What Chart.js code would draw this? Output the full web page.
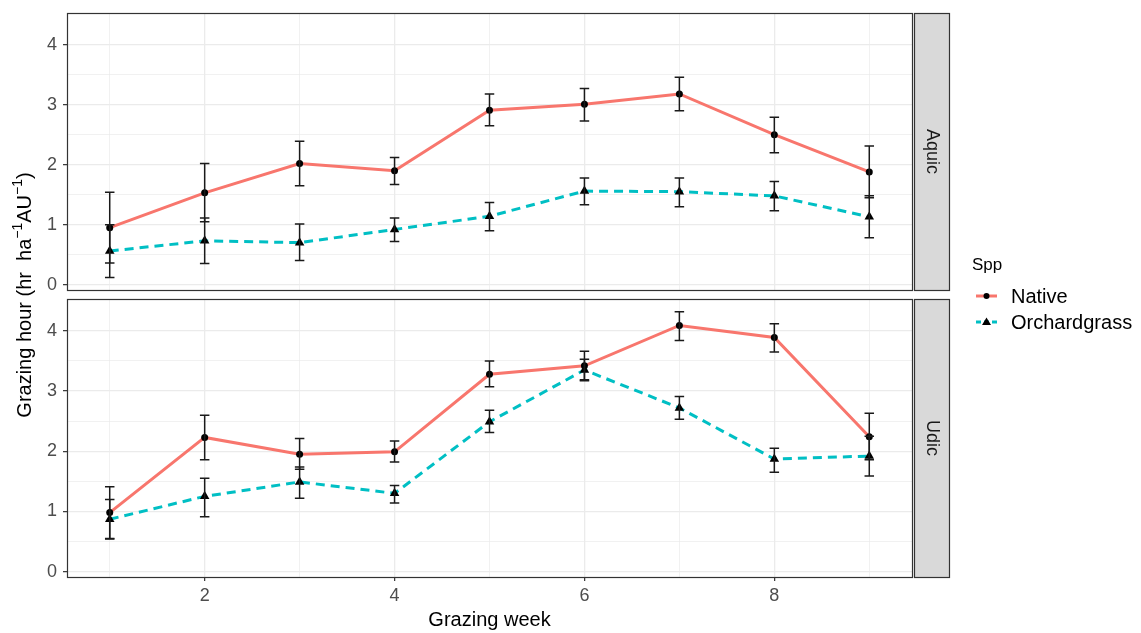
<!DOCTYPE html>
<html>
<head>
<meta charset="utf-8">
<script src="https://cdn.jsdelivr.net/npm/chart.js@4.4.1/dist/chart.umd.min.js"></script>
<style>
  html, body { margin: 0; padding: 0; background: #fff; }
  #wrap { position: relative; width: 1141px; height: 633px; }
  #wrap canvas { position: absolute; left: 0; top: 0; }
</style>
</head>
<body>
<div id="wrap">
  <canvas id="aquicChart" width="1141" height="633"></canvas>
  <canvas id="udicChart" width="1141" height="633"></canvas>
</div>
<script>
/* ========================================
   DATA
======================================== */
const weeks = [1, 2, 3, 4, 5, 6, 7, 8, 9];
const xTicks = [1, 2, 3, 4, 5, 6, 7, 8, 9];
const yTicks = [0, 0.5, 1, 1.5, 2, 2.5, 3, 3.5, 4];

// Aquic panel
const aquicNative   = [0.95, 1.53, 2.02, 1.90, 2.91, 3.01, 3.18, 2.50, 1.88];
const aquicNativeLo = [0.36, 1.05, 1.65, 1.67, 2.65, 2.73, 2.90, 2.20, 1.45];
const aquicNativeHi = [1.54, 2.02, 2.39, 2.12, 3.18, 3.27, 3.46, 2.79, 2.31];
const aquicOrch     = [0.56, 0.73, 0.70, 0.92, 1.14, 1.56, 1.55, 1.48, 1.13];
const aquicOrchLo   = [0.12, 0.35, 0.40, 0.72, 0.90, 1.33, 1.30, 1.23, 0.78];
const aquicOrchHi   = [1.00, 1.11, 1.01, 1.11, 1.37, 1.78, 1.78, 1.72, 1.48];

// Udic panel
const udicNative   = [0.98, 2.23, 1.95, 1.99, 3.28, 3.42, 4.09, 3.89, 2.24];
const udicNativeLo = [0.55, 1.86, 1.70, 1.82, 3.07, 3.19, 3.84, 3.65, 1.86];
const udicNativeHi = [1.41, 2.60, 2.21, 2.17, 3.50, 3.66, 4.32, 4.12, 2.63];
const udicOrch     = [0.87, 1.25, 1.49, 1.30, 2.49, 3.35, 2.72, 1.87, 1.92];
const udicOrchLo   = [0.54, 0.91, 1.22, 1.14, 2.31, 3.17, 2.53, 1.65, 1.59];
const udicOrchHi   = [1.20, 1.55, 1.74, 1.43, 2.68, 3.53, 2.91, 2.05, 2.25];

const NATIVE_COLOR = "#F8766D";
const ORCH_COLOR = "#00BFC4";
const FONT = "'Liberation Sans', Arial, sans-serif";

/* ========================================
   PLUGINS
======================================== */
const errorBars = {
  id: "errorBars",
  afterDatasetsDraw(chart) {
    const { ctx, scales: { x, y } } = chart;
    ctx.save();
    ctx.strokeStyle = "#1a1a1a";
    ctx.lineWidth = 1.5;
    chart.data.datasets.forEach(ds => {
      ds.data.forEach((pt, i) => {
        const px = x.getPixelForValue(pt.x);
        const half = x.getPixelForValue(pt.x + 0.05) - px;
        const yLo = y.getPixelForValue(ds.errLo[i]);
        const yHi = y.getPixelForValue(ds.errHi[i]);
        ctx.beginPath();
        ctx.moveTo(px, yLo); ctx.lineTo(px, yHi);
        ctx.moveTo(px - half, yLo); ctx.lineTo(px + half, yLo);
        ctx.moveTo(px - half, yHi); ctx.lineTo(px + half, yHi);
        ctx.stroke();
      });
    });
    ctx.restore();
  }
};

const panelDecor = {
  id: "panelDecor",
  afterDraw(chart, args, opts) {
    const { ctx, chartArea: a } = chart;
    ctx.save();
    // panel border
    ctx.strokeStyle = "#333";
    ctx.lineWidth = 1.2;
    ctx.strokeRect(a.left + 0.5, a.top + 0.5, a.right - a.left, a.bottom - a.top);
    // facet strip
    ctx.fillStyle = "#d9d9d9";
    ctx.fillRect(a.right + 2, a.top, 35, a.bottom - a.top);
    ctx.strokeRect(a.right + 2.5, a.top + 0.5, 35, a.bottom - a.top);
    ctx.fillStyle = "#1a1a1a";
    ctx.font = "18px " + FONT;
    ctx.textAlign = "center";
    ctx.textBaseline = "middle";
    ctx.translate(a.right + 20, (a.top + a.bottom) / 2);
    ctx.rotate(Math.PI / 2);
    ctx.fillText(opts.strip, 0, 0);
    ctx.restore();

    if (opts.extras) drawExtras(chart);
  }
};

function drawExtras(chart) {
  const ctx = chart.ctx;
  ctx.save();

  // y axis title with superscripts
  const parts = [
    { t: "Grazing hour (hr  ha", sup: false },
    { t: "\u22121", sup: true },
    { t: "AU", sup: false },
    { t: "\u22121", sup: true },
    { t: ")", sup: false }
  ];
  const big = "20px " + FONT, small = "14px " + FONT;
  let total = 0;
  parts.forEach(p => { ctx.font = p.sup ? small : big; p.w = ctx.measureText(p.t).width; total += p.w; });
  ctx.translate(24, 295);
  ctx.rotate(-Math.PI / 2);
  ctx.fillStyle = "#000";
  ctx.textBaseline = "alphabetic";
  ctx.textAlign = "left";
  let cx = -total / 2;
  parts.forEach(p => {
    ctx.font = p.sup ? small : big;
    ctx.fillText(p.t, cx, p.sup ? -2 : 7);
    cx += p.w;
  });
  ctx.restore();

  // legend
  ctx.save();
  ctx.fillStyle = "#000";
  ctx.font = "17px " + FONT;
  ctx.textBaseline = "middle";
  ctx.fillText("Spp", 972, 265);

  const keys = [
    { label: "Native", color: NATIVE_COLOR, dash: [], shape: "circle", y: 296 },
    { label: "Orchardgrass", color: ORCH_COLOR, dash: [5, 3], shape: "triangle", y: 322 }
  ];
  keys.forEach(k => {
    ctx.strokeStyle = k.color;
    ctx.lineWidth = 3;
    ctx.setLineDash(k.dash);
    ctx.beginPath();
    ctx.moveTo(976, k.y); ctx.lineTo(997, k.y);
    ctx.stroke();
    ctx.setLineDash([]);
    ctx.fillStyle = "#000";
    ctx.beginPath();
    if (k.shape === "circle") {
      ctx.arc(986.5, k.y, 3, 0, Math.PI * 2);
    } else {
      ctx.moveTo(986.5, k.y - 4.5); ctx.lineTo(991, k.y + 3); ctx.lineTo(982, k.y + 3);
      ctx.closePath();
    }
    ctx.fill();
    ctx.font = "20px " + FONT;
    ctx.fillText(k.label, 1011, k.y + 1);
  });
  ctx.restore();
}

/* ========================================
   CHART BUILDER
======================================== */
function toPoints(values) {
  return values.map((v, i) => ({ x: weeks[i], y: v }));
}

function buildPanel(canvasId, strip, native, nLo, nHi, orch, oLo, oHi, isBottom) {
  const ctx = document.getElementById(canvasId).getContext("2d");

  return new Chart(ctx, {
    type: "line",
    data: {
      datasets: [
        {
          label: "Native",
          data: toPoints(native),
          errLo: nLo, errHi: nHi,
          borderColor: NATIVE_COLOR,
          borderWidth: 3,
          pointStyle: "circle",
          pointRadius: 3.5,
          pointBackgroundColor: "#000",
          pointBorderColor: "#000",
          pointBorderWidth: 0,
          tension: 0
        },
        {
          label: "Orchardgrass",
          data: toPoints(orch),
          errLo: oLo, errHi: oHi,
          borderColor: ORCH_COLOR,
          borderWidth: 3,
          borderDash: [9, 6],
          pointStyle: "triangle",
          pointRadius: 5.5,
          pointBackgroundColor: "#000",
          pointBorderColor: "#000",
          pointBorderWidth: 0,
          tension: 0
        }
      ]
    },
    options: {
      responsive: false,
      animation: false,
      events: [],
      layout: {
        padding: isBottom
          ? { left: 0, right: 229, top: 299, bottom: 0 }
          : { left: 0, right: 229, top: 13, bottom: 343 }
      },
      plugins: {
        legend: { display: false },
        tooltip: { enabled: false },
        panelDecor: { strip, extras: isBottom }
      },
      scales: {
        x: {
          type: "linear",
          min: 0.55,
          max: 9.45,
          afterBuildTicks: s => { s.ticks = xTicks.map(v => ({ value: v })); },
          afterFit: s => {
            s.height = isBottom ? 56 : 0;
            s.paddingLeft = 0; s.paddingRight = 0;
          },
          border: { display: false },
          grid: {
            color: "#ebebeb",
            lineWidth: c => (c.tick && c.tick.value % 2 === 0 ? 1.3 : 0.7),
            drawTicks: isBottom,
            tickLength: 4,
            tickWidth: 1.2,
            tickColor: c => (c.tick && c.tick.value % 2 === 0 ? "#333" : "rgba(0,0,0,0)")
          },
          ticks: {
            display: isBottom,
            autoSkip: false,
            maxRotation: 0,
            padding: 4,
            color: "#4d4d4d",
            font: { size: 18, family: FONT },
            callback: v => (v % 2 === 0 ? v : "")
          },
          title: {
            display: isBottom,
            text: "Grazing week",
            color: "#000",
            font: { size: 20, family: FONT },
            padding: { top: 0, bottom: 1 }
          }
        },
        y: {
          min: -0.09,
          max: 4.53,
          afterBuildTicks: s => { s.ticks = yTicks.map(v => ({ value: v })); },
          afterFit: s => {
            s.width = 67;
            s.paddingTop = 0; s.paddingBottom = 0;
          },
          border: { display: false },
          grid: {
            color: "#ebebeb",
            lineWidth: c => (c.tick && Number.isInteger(c.tick.value) ? 1.3 : 0.7),
            tickLength: 4,
            tickWidth: 1.2,
            tickColor: c => (c.tick && Number.isInteger(c.tick.value) ? "#333" : "rgba(0,0,0,0)")
          },
          ticks: {
            autoSkip: false,
            padding: 6,
            color: "#4d4d4d",
            font: { size: 18, family: FONT },
            callback: v => (Number.isInteger(v) ? v : "")
          }
        }
      }
    },
    plugins: [errorBars, panelDecor]
  });
}

/* ========================================
   INITIAL LOAD
======================================== */
buildPanel("aquicChart", "Aquic",
  aquicNative, aquicNativeLo, aquicNativeHi,
  aquicOrch, aquicOrchLo, aquicOrchHi, false);

buildPanel("udicChart", "Udic",
  udicNative, udicNativeLo, udicNativeHi,
  udicOrch, udicOrchLo, udicOrchHi, true);
</script>
</body>
</html>
